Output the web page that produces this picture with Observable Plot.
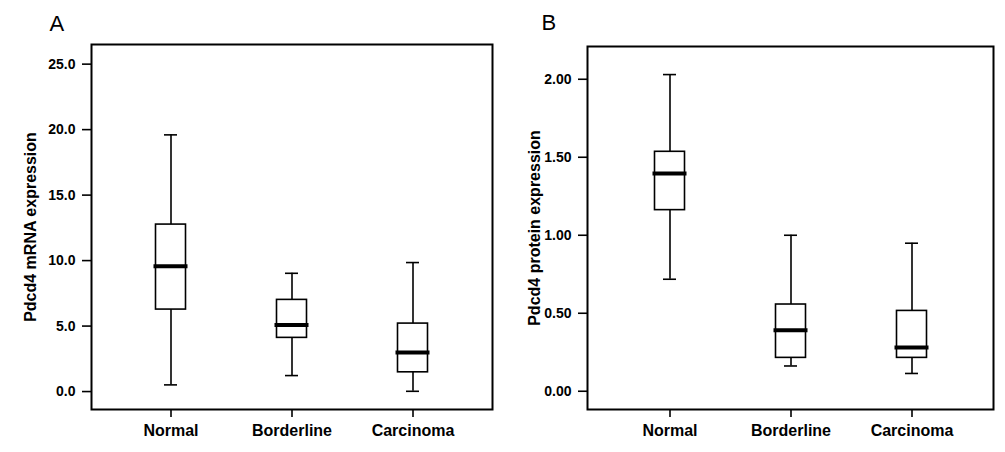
<!DOCTYPE html>
<html>
<head>
<meta charset="utf-8">
<script src="https://cdn.jsdelivr.net/npm/d3@7"></script>
<script src="https://cdn.jsdelivr.net/npm/@observablehq/plot@0.6"></script>
<style>
  html, body { margin: 0; padding: 0; background: #fff; }
  #wrap { display: flex; flex-direction: row; width: 1005px; height: 452px; }
  g[aria-label^="y-axis"] text { font-size: 14px !important; font-weight: bold; }
  g[aria-label^="x-axis"] text { font-size: 16px !important; font-weight: bold; }
</style>
</head>
<body>
<div id="wrap"></div>
<script>
const categories = ["Normal", "Borderline", "Carcinoma"];

// Panel A: Pdcd4 mRNA expression
const mrnaMin    = [0.51, 1.22, 0.02];
const mrnaQ1     = [6.26, 4.10, 1.47];
const mrnaMedian = [9.57, 5.09, 2.98];
const mrnaQ3     = [12.75, 7.00, 5.19];
const mrnaMax    = [19.6, 9.03, 9.85];
const mrnaTicks  = [0, 5, 10, 15, 20, 25];

// Panel B: Pdcd4 protein expression
const proteinMin    = [0.718, 0.162, 0.114];
const proteinQ1     = [1.161, 0.214, 0.214];
const proteinMedian = [1.396, 0.391, 0.280];
const proteinQ3     = [1.535, 0.556, 0.515];
const proteinMax    = [2.03, 1.00, 0.949];
const proteinTicks  = [0, 0.5, 1, 1.5, 2];

function rows(mn, q1, md, q3, mx) {
  return categories.map((c, i) => ({cat: c, min: mn[i], q1: q1[i], med: md[i], q3: q3[i], max: mx[i]}));
}

function panel(o) {
  const data = rows(...o.stats);
  return Plot.plot({
    width: o.width,
    height: 452,
    marginLeft: o.ml,
    marginRight: o.mr,
    marginTop: o.mt,
    marginBottom: o.mb,
    style: {fontFamily: "'Liberation Sans', Arial, sans-serif", fontWeight: "bold", background: "#fff", color: "#000", overflow: "visible"},
    x: {type: "band", domain: categories, paddingInner: 0, paddingOuter: o.po, label: null},
    y: {domain: o.ydomain, label: null},
    marks: [
      Plot.axisY({ticks: o.ticks, tickFormat: d3.format(o.fmt), tickSize: 9, tickPadding: 7, strokeWidth: 1.6, label: null}),
      Plot.axisX({tickSize: 8, tickPadding: 7, strokeWidth: 1.6, label: null}),
      Plot.ruleX(data, {x: "cat", y1: "min", y2: "max", stroke: "#000", strokeWidth: 1.6}),
      Plot.tickY(data, {x: "cat", y: "max", stroke: "#000", strokeWidth: 1.6, insetLeft: 54, insetRight: 54}),
      Plot.tickY(data, {x: "cat", y: "min", stroke: "#000", strokeWidth: 1.6, insetLeft: 54, insetRight: 54}),
      Plot.barY(data, {x: "cat", y1: "q1", y2: "q3", fill: "#fff", stroke: "#000", strokeWidth: 1.6, insetLeft: 45.5, insetRight: 45.5}),
      Plot.tickY(data, {x: "cat", y: "med", stroke: "#000", strokeWidth: 4, insetLeft: 43.5, insetRight: 43.5}),
      Plot.frame({stroke: "#000", strokeWidth: 2}),
      Plot.text([o.title], {frameAnchor: "left", textAnchor: "middle", lineAnchor: "middle", rotate: -90, dx: o.titleDx, fontSize: 16, fontWeight: "bold", fill: "#000"}),
      Plot.text([o.letter], {frameAnchor: "top-left", textAnchor: "start", lineAnchor: "top", dx: o.letterDx, dy: o.letterDy, fontSize: 22, fontWeight: "normal", fill: "#000"})
    ]
  });
}

const wrap = document.getElementById("wrap");
wrap.appendChild(panel({
  width: 500, ml: 91, mr: 8, mt: 44, mb: 43, po: 0.157,
  stats: [mrnaMin, mrnaQ1, mrnaMedian, mrnaQ3, mrnaMax],
  ydomain: [-1.37, 26.5], ticks: mrnaTicks, fmt: ".1f",
  title: "Pdcd4 mRNA expression", titleDx: -61,
  letter: "A", letterDx: -42, letterDy: -29
}));
wrap.appendChild(panel({
  width: 505, ml: 87, mr: 12, mt: 46, mb: 43, po: 0.165,
  stats: [proteinMin, proteinQ1, proteinMedian, proteinQ3, proteinMax],
  ydomain: [-0.117, 2.21], ticks: proteinTicks, fmt: ".2f",
  title: "Pdcd4 protein expression", titleDx: -53,
  letter: "B", letterDx: -46, letterDy: -32
}));
</script>
</body>
</html>
